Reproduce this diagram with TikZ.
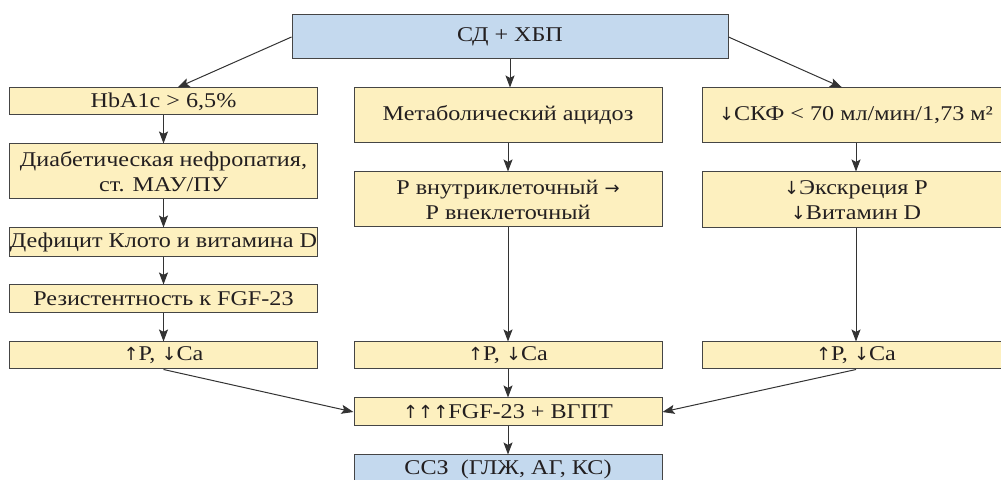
\documentclass[tikz,border=0pt]{standalone}
\usepackage{fontspec}
\setmainfont{Liberation Serif}[FakeStretch=1.15]
\newfontfamily\arrowfont{DejaVu Sans}
\newcommand\arrup{{\arrowfont\fontsize{9}{10}\selectfont ↑}}
\newcommand\arrdn{{\arrowfont\fontsize{9}{10}\selectfont ↓}}
\newcommand\arrrt{{\arrowfont\fontsize{9}{10}\selectfont →}}
\usetikzlibrary{arrows.meta, positioning}

\definecolor{boxyellow}{HTML}{FDF0BF}
\definecolor{boxblue}{HTML}{C4D9EE}
\definecolor{boxline}{HTML}{454545}
\definecolor{arrowgray}{HTML}{333333}
\definecolor{inkblack}{HTML}{231F20}

\begin{document}
\begin{tikzpicture}[x=0.5pt, y=-0.5pt,
    every node/.style={font=\fontsize{10.5}{12.5}\selectfont, text=inkblack},
    cell/.style={draw=boxline, line width=0.5pt, fill=boxyellow, inner sep=0pt,
                 align=center, minimum width=154pt},
    bluecell/.style={cell, fill=boxblue},
    link/.style={draw=arrowgray, line width=0.5pt,
                 -{Stealth[length=6pt, width=4.5pt, inset=1.2pt]}}]
  \useasboundingbox (0,0) rectangle (1001,480);

  \node[bluecell, minimum width=218pt, minimum height=22pt] (sd) at (510,37) {СД + ХБП};

  % left column
  \foreach \name/\yc/\h/\lbl in {hba/101.5/13.5pt/{HbA1c > 6,5\%},
                                 neph/171.5/27.5pt/{Диабетическая нефропатия,\\ст. МАУ/ПУ},
                                 klotho/242.5/14.5pt/{Дефицит Клото и витамина D},
                                 resist/299/14pt/{Резистентность к FGF-23},
                                 lpca/355.5/13.5pt/{\arrup P, \arrdn Ca}} {
      \node[cell, minimum height=\h] (\name) at (163.5,\yc) {\lbl};
  }

  % middle column
  \foreach \name/\yc/\h/\lbl in {acid/115.5/27.5pt/{Метаболический ацидоз},
                                 pcell/199.5/27.5pt/{Р внутриклеточный \arrrt\\Р внеклеточный},
                                 mpca/355.5/13.5pt/{\arrup P, \arrdn Ca},
                                 fgf/412/14pt/{\arrup\arrup\arrup FGF-23 + ВГПТ}} {
      \node[cell, minimum height=\h] (\name) at (508,\yc) {\lbl};
  }
  \node[bluecell, minimum height=14pt] (ccs) at (508,469) {ССЗ~ (ГЛЖ, АГ, КС)};

  % right column
  \foreach \name/\yc/\h/\lbl in {gfr/115.5/27.5pt/{\arrdn СКФ < 70 мл/мин/1,73 м²},
                                 excr/200/28pt/{\arrdn Экскреция Р\\\arrdn Витамин D},
                                 rpca/355.5/13.5pt/{\arrup P, \arrdn Ca}} {
      \node[cell, minimum height=\h] (\name) at (856,\yc) {\lbl};
  }

  \draw[link] (sd.west) -- ([xshift=7pt]hba.north);
  \draw[link] (sd.south) -- (sd.south |- acid.north);
  \draw[link] (sd.east) -- ([xshift=-7pt]gfr.north);
  \foreach \a/\b in {hba/neph, neph/klotho, klotho/resist, resist/lpca,
                     acid/pcell, pcell/mpca, gfr/excr, excr/rpca,
                     mpca/fgf, fgf/ccs}
      \draw[link] (\a) -- (\b);
  \draw[link] (lpca.south) -- (fgf.west);
  \draw[link] (rpca.south) -- (fgf.east);
\end{tikzpicture}
\end{document}
